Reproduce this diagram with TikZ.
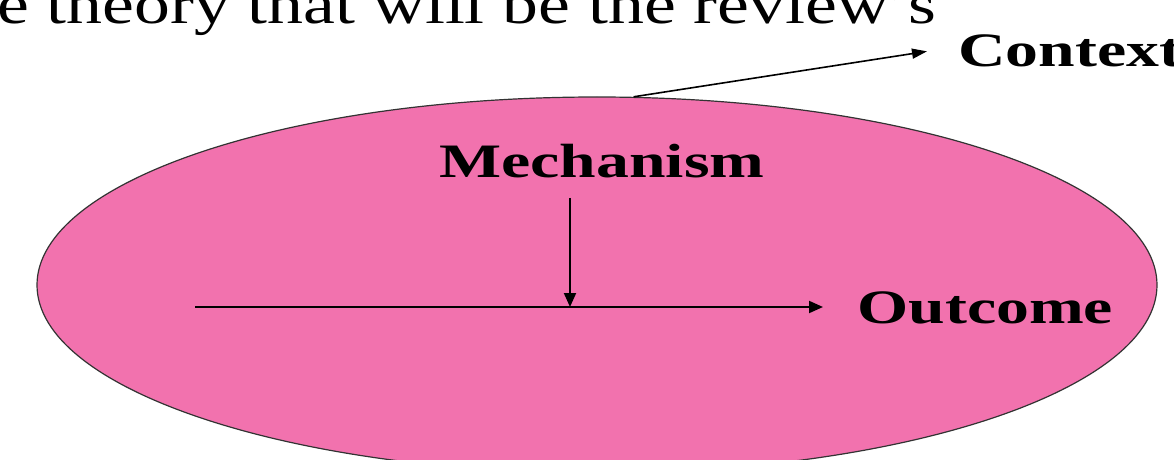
\documentclass[tikz,border=0pt]{standalone}
\usepackage{fontspec}
\setmainfont{Liberation Serif}
\usetikzlibrary{arrows.meta, positioning, shapes.geometric}
\definecolor{mPink}{HTML}{F272AE}
\definecolor{mEdge}{HTML}{333333}

\begin{document}
\begin{tikzpicture}[x=0.5pt, y=-0.5pt,
      >={Triangle[length=7pt, width=6pt]},
      ctxshape/.style={ellipse, draw=mEdge, line width=0.6pt, fill=mPink,
                  minimum width=560pt, minimum height=188pt, inner sep=0pt},
      hdr/.style={font=\fontsize{28}{32}\selectfont, inner sep=0pt},
      lbl/.style={font=\fontsize{24}{28}\selectfont\bfseries, inner sep=0pt},
      arr/.style={->, line width=1pt}]
    \useasboundingbox (0,0) rectangle (1174,460);
    \clip (0,0) rectangle (1174,460);

    \node[hdr, anchor=base east] (title) at (937,24)
      {\scalebox{1.28}[1]{e theory that will be the review's}};
    \node[ctxshape] (ctx) at (597,285) {};

    \node[lbl, anchor=base west, inner xsep=15.5pt] (context) at (927,67)
      {\scalebox{1.37}[1]{Context}};
    \node[lbl, anchor=base, inner ysep=10pt] (mech) at (602,177)
      {\scalebox{1.37}[1]{Mechanism}};
    \node[lbl, anchor=base west, inner xsep=17pt] (outcome) at (823,323)
      {\scalebox{1.37}[1]{Outcome}};

    \coordinate (start) at (195,307);
    \coordinate (meet) at (570,307);

    \draw[arr] (start) -- (start -| outcome.west);
    \draw[arr] (mech.south -| meet) -- (meet);
    \draw[->, line width=0.8pt, >={Triangle[length=7.5pt, width=5pt]}]
      (ctx.79) -- (context.west);
  \end{tikzpicture}
\end{document}
